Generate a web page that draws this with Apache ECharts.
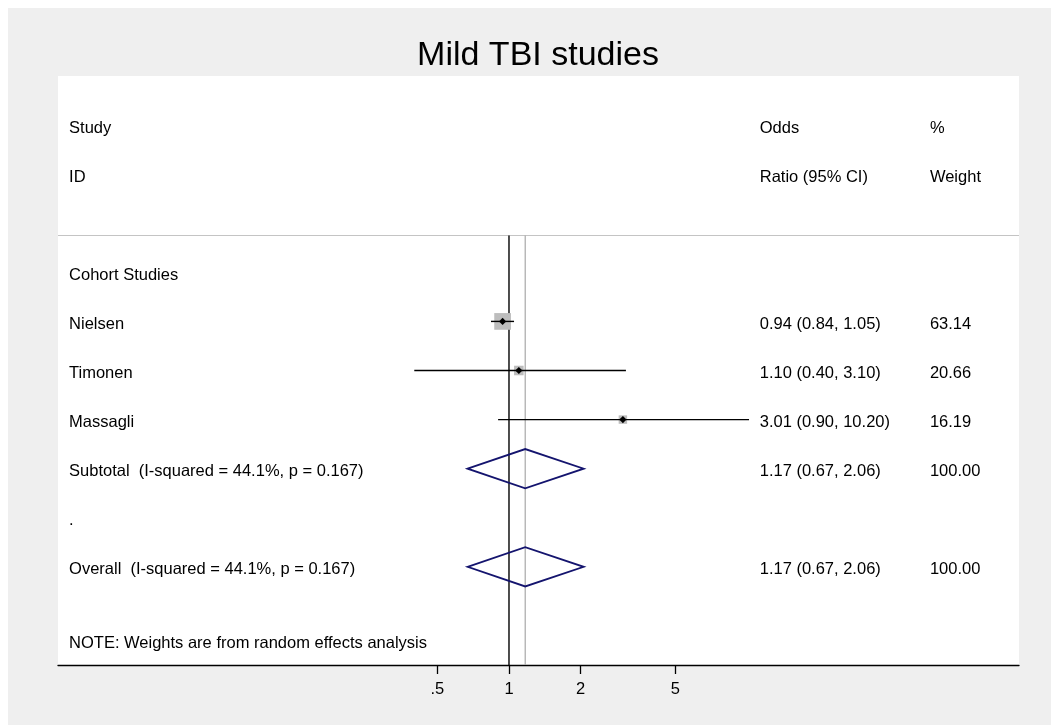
<!DOCTYPE html>
<html><head><meta charset="utf-8">
<script src="https://cdn.jsdelivr.net/npm/echarts@6/dist/echarts.min.js"></script>
<style>html,body{margin:0;padding:0;background:#fff;}#c{position:absolute;left:8px;top:8px;width:1043px;height:717px;}</style>
</head><body><div id="c"></div>
<script>
// ---------- data ----------
const chartTitle = 'Mild TBI studies';
const headerStudy = ['Study', 'ID'];
const headerOdds = ['Odds', 'Ratio (95% CI)'];
const headerWeight = ['%', 'Weight'];
const headerRows = [0, 1];
const groupLabel = 'Cohort Studies';
const groupRow = 3;
const studyNames = ['Nielsen', 'Timonen', 'Massagli'];
const studyRows = [4, 5, 6];
const studyOR = [0.94, 1.10, 3.01];
const studyLow = [0.84, 0.40, 0.90];
const studyHigh = [1.05, 3.10, 10.20];
const studyWeight = [63.14, 20.66, 16.19];
const pooledLabels = ['Subtotal  (I-squared = 44.1%, p = 0.167)', 'Overall  (I-squared = 44.1%, p = 0.167)'];
const pooledRows = [7, 9];
const pooledOR = [1.17, 1.17];
const pooledLow = [0.67, 0.67];
const pooledHigh = [2.06, 2.06];
const pooledWeight = [100.00, 100.00];
const spacerLabel = '.';
const spacerRow = 8;
const noteText = 'NOTE: Weights are from random effects analysis';
const noteRow = 10.5;
const separatorRow = 2.25;
const tickValues = [0.5, 1, 2, 5];
const tickLabels = ['.5', '1', '2', '5'];

// ---------- layout / style ----------
const FONT = '"Liberation Sans", Arial, Helvetica, sans-serif';
const TXT = '16.5px ' + FONT;
const COL_LEFT = 0.0115, COL_ODDS = 0.7302, COL_WEIGHT = 0.9073;
const TEXT_DY = 3;
const fmt = v => v.toFixed(2);
const L = Math.log10;

const texts = [];
headerRows.forEach((r, i) => {
  texts.push([COL_LEFT, r, headerStudy[i]]);
  texts.push([COL_ODDS, r, headerOdds[i]]);
  texts.push([COL_WEIGHT, r, headerWeight[i]]);
});
texts.push([COL_LEFT, groupRow, groupLabel]);
studyNames.forEach((n, i) => {
  texts.push([COL_LEFT, studyRows[i], n]);
  texts.push([COL_ODDS, studyRows[i], fmt(studyOR[i]) + ' (' + fmt(studyLow[i]) + ', ' + fmt(studyHigh[i]) + ')']);
  texts.push([COL_WEIGHT, studyRows[i], fmt(studyWeight[i])]);
});
pooledLabels.forEach((n, i) => {
  texts.push([COL_LEFT, pooledRows[i], n]);
  texts.push([COL_ODDS, pooledRows[i], fmt(pooledOR[i]) + ' (' + fmt(pooledLow[i]) + ', ' + fmt(pooledHigh[i]) + ')']);
  texts.push([COL_WEIGHT, pooledRows[i], fmt(pooledWeight[i])]);
});
texts.push([COL_LEFT, spacerRow, spacerLabel]);
texts.push([COL_LEFT, noteRow, noteText]);

const studyData = studyNames.map((n, i) => [L(studyOR[i]), L(studyLow[i]), L(studyHigh[i]), studyRows[i], studyWeight[i]]);
const pooledData = pooledLabels.map((n, i) => [L(pooledOR[i]), L(pooledLow[i]), L(pooledHigh[i]), pooledRows[i]]);
const refData = [[L(1), separatorRow, 11, 0], [L(pooledOR[1]), separatorRow, 11, 1]];

const BOX = 16.7 / Math.sqrt(63.14);

const chart = echarts.init(document.getElementById('c'), null, {renderer: 'canvas'});
chart.setOption({
  backgroundColor: '#efefef',
  animation: false,
  graphic: [{
    type: 'text', x: 530, y: 48, z: 10,
    style: {text: chartTitle, font: '34px ' + FONT, fill: '#000', align: 'center', verticalAlign: 'middle'}
  }],
  grid: {left: 50, top: 68, width: 961, height: 589, show: true, backgroundColor: '#fff', borderWidth: 0},
  xAxis: [{
    type: 'value', min: -1.895, max: 2.143,
    axisLine: {show: true, onZero: false, lineStyle: {color: '#000', width: 1.3}},
    axisTick: {show: true, length: 9, inside: false, lineStyle: {color: '#000', width: 1.3}, customValues: tickValues.map(L)},
    axisLabel: {
      show: true, customValues: tickValues.map(L), margin: 16, color: '#000', fontSize: 16.5, fontFamily: FONT,
      formatter: v => { let b = 0; tickValues.forEach((t, i) => { if (Math.abs(L(t) - v) < Math.abs(L(tickValues[b]) - v)) b = i; }); return tickLabels[b]; }
    },
    splitLine: {show: false}
  }, {
    type: 'value', min: 0, max: 1, show: false, splitLine: {show: false}
  }],
  yAxis: {type: 'value', inverse: true, min: -1, max: 11, show: false, splitLine: {show: false}},
  series: [
    {
      type: 'custom', name: 'separator', xAxisIndex: 0, yAxisIndex: 0, z: 1,
      data: [[0, separatorRow]],
      renderItem: (params, api) => {
        const p = api.coord([api.value(0), api.value(1)]);
        const cs = params.coordSys;
        return {type: 'line', shape: {x1: cs.x, y1: p[1], x2: cs.x + cs.width, y2: p[1]}, style: {stroke: '#c4c4c4', lineWidth: 1.2}};
      }
    },
    {
      type: 'custom', name: 'reference', xAxisIndex: 0, yAxisIndex: 0, z: 2,
      data: refData,
      renderItem: (params, api) => {
        const a = api.coord([api.value(0), api.value(1)]);
        const b = api.coord([api.value(0), api.value(2)]);
        const gray = api.value(3) === 1;
        return {type: 'line', shape: {x1: a[0], y1: a[1], x2: b[0], y2: b[1]},
          style: {stroke: gray ? '#a8a8a8' : '#000', lineWidth: gray ? 1.2 : 1.4}};
      }
    },
    {
      type: 'custom', name: 'studies', xAxisIndex: 0, yAxisIndex: 0, z: 3,
      data: studyData,
      renderItem: (params, api) => {
        const c = api.coord([api.value(0), api.value(3)]);
        const lo = api.coord([api.value(1), api.value(3)]);
        const hi = api.coord([api.value(2), api.value(3)]);
        const s = BOX * Math.sqrt(api.value(4));
        const d = 3.6;
        return {type: 'group', children: [
          {type: 'rect', shape: {x: c[0] - s / 2, y: c[1] - s / 2, width: s, height: s}, style: {fill: '#bdbdbd'}},
          {type: 'line', shape: {x1: lo[0], y1: lo[1], x2: hi[0], y2: hi[1]}, style: {stroke: '#000', lineWidth: 1.4}},
          {type: 'polygon', shape: {points: [[c[0] - d, c[1]], [c[0], c[1] - d], [c[0] + d, c[1]], [c[0], c[1] + d]]}, style: {fill: '#000'}}
        ]};
      }
    },
    {
      type: 'custom', name: 'pooled', xAxisIndex: 0, yAxisIndex: 0, z: 4,
      data: pooledData,
      renderItem: (params, api) => {
        const r = api.value(3);
        const pts = [
          api.coord([api.value(1), r]),
          api.coord([api.value(0), r - 0.4]),
          api.coord([api.value(2), r]),
          api.coord([api.value(0), r + 0.4])
        ];
        return {type: 'polygon', shape: {points: pts}, style: {fill: 'none', stroke: '#14146e', lineWidth: 1.8, lineJoin: 'miter'}};
      }
    },
    {
      type: 'custom', name: 'texts', xAxisIndex: 1, yAxisIndex: 0, z: 5,
      data: texts.map(t => [t[0], t[1]]),
      renderItem: (params, api) => {
        const p = api.coord([api.value(0), api.value(1)]);
        return {type: 'text', x: p[0], y: p[1] + TEXT_DY,
          style: {text: texts[params.dataIndex][2], font: TXT, fill: '#000', align: 'left', verticalAlign: 'middle'}};
      }
    }
  ]
});
</script></body></html>
